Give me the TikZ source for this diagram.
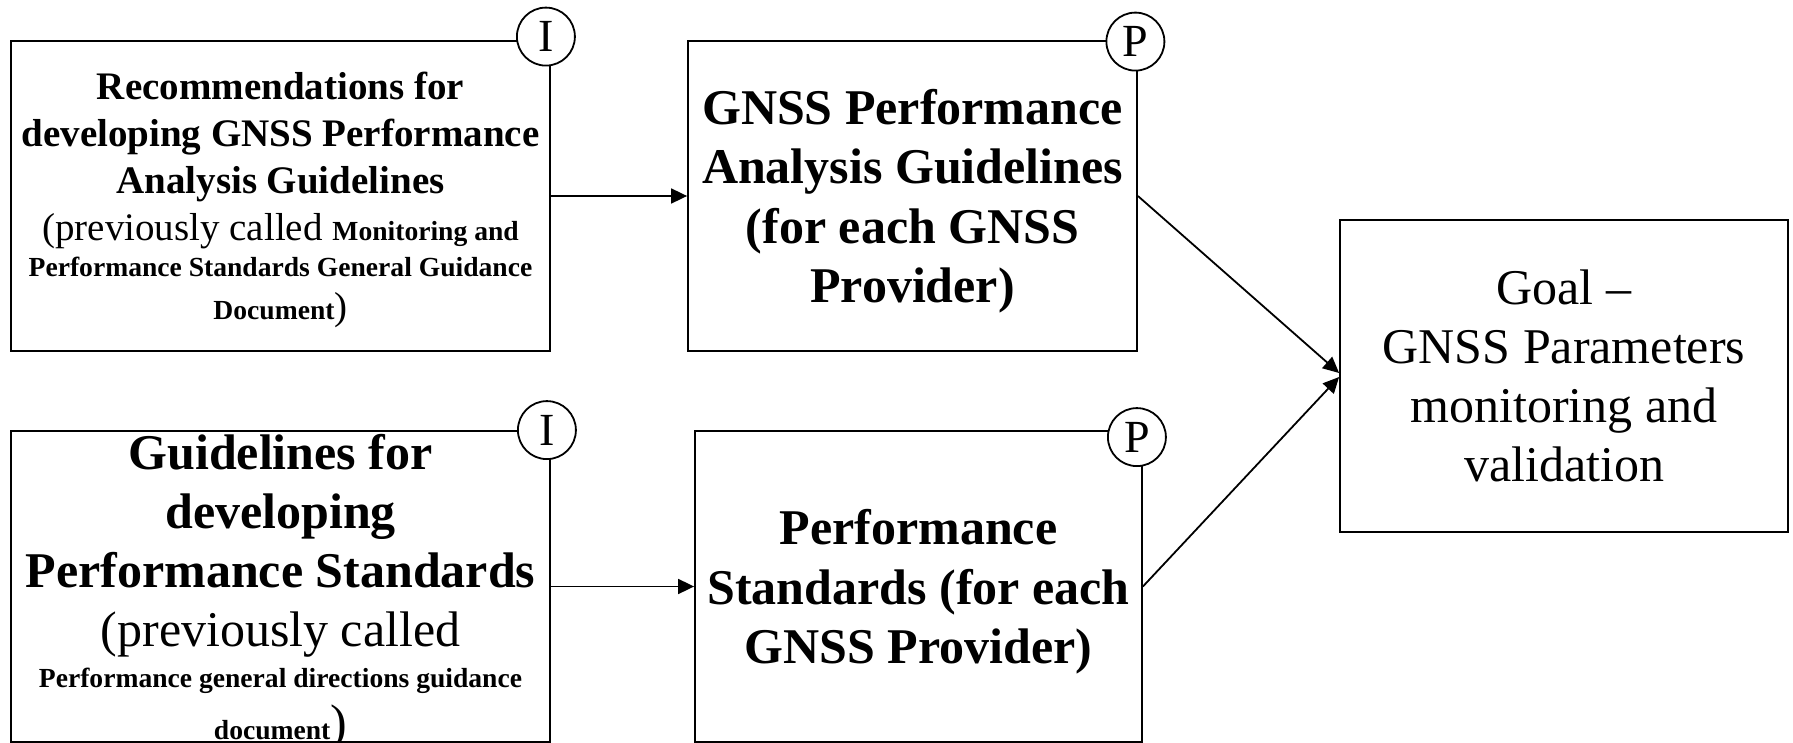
\documentclass[tikz,border=0pt]{standalone}
\usepackage{fontspec}
\setmainfont{Liberation Serif}
\usetikzlibrary{arrows.meta}

\tikzset{every picture/.style={line width=0.9pt}}
\tikzset{
  blk/.style={draw, rectangle, inner sep=0pt, align=center, text depth=0pt},
  badge/.style={draw, circle, fill=white, inner sep=0pt, minimum size=29pt, font=\fontsize{23}{27}\selectfont},
  link/.style={-{Triangle[length=8pt,width=7.5pt]}}
}
\newcommand{\smb}[1]{{\fontsize{13.8}{16}\selectfont\bfseries #1}}

\begin{document}
\begin{tikzpicture}[x=0.5pt,y=0.5pt,yscale=-1,xscale=1]
\useasboundingbox (0,0) rectangle (1793,743);

%Shape: Rectangle [id:rec]
\node [blk, minimum width=269.5pt, minimum height=155pt, font=\fontsize{19.5}{23.5}\selectfont] (rec) at (280.5,196) {\textbf{Recommendations for}\\ \textbf{developing GNSS Performance}\\ \textbf{Analysis Guidelines}\\ (previously called \smb{Monitoring and}\\[-5.5pt] \smb{Performance Standards General Guidance}\\[-2pt] \smb{Document})};
%Shape: Rectangle [id:gdl]
\node [blk, inner ysep=-12pt, minimum width=269.5pt, minimum height=155.5pt, font=\fontsize{25}{29.5}\selectfont] (gdl) at (280.5,586.5) {\textbf{Guidelines for}\\ \textbf{developing}\\ \textbf{Performance Standards}\\ (previously called\\[-9pt] \smb{Performance general directions guidance}\\[-3.5pt] \smb{document})};
%Shape: Rectangle [id:ana]
\node [blk, minimum width=224.5pt, minimum height=155pt, font=\fontsize{25}{29.75}\selectfont\bfseries] (ana) at (912.5,196) {GNSS Performance\\ Analysis Guidelines\\ (for each GNSS\\ Provider)};
%Shape: Rectangle [id:std]
\node [blk, minimum width=223.5pt, minimum height=155.5pt, font=\fontsize{25}{29.75}\selectfont\bfseries] (std) at (918.5,586.5) {Performance\\ Standards (for each\\ GNSS Provider)};
%Shape: Rectangle [id:goal]
\node [blk, minimum width=224pt, minimum height=156pt, font=\fontsize{25}{29.5}\selectfont] (goal) at (1564,376) {Goal --\\ GNSS Parameters\\ monitoring and\\ validation};

%Shape: Circle [id:badges]
\node [badge] (recI) at ([xshift=-2.5pt,yshift=-1.75pt]rec.north east) {I};
\node [badge] (gdlI) at ([xshift=-2pt]gdl.north east) {I};
\node [badge] (anaP) at ([xshift=-1.25pt,yshift=0.75pt]ana.north east) {P};
\node [badge] (stdP) at ([xshift=-3pt,yshift=3.5pt]std.north east) {P};

%Straight Lines [id:arrows]
\draw [link] (rec) -- (ana);
\draw [link] (gdl) -- (std);
\draw [link] (ana.east) -- ([yshift=-1.5pt]goal.west);
\draw [link] (std.east) -- ([yshift=0.5pt]goal.west);

\end{tikzpicture}
\end{document}
